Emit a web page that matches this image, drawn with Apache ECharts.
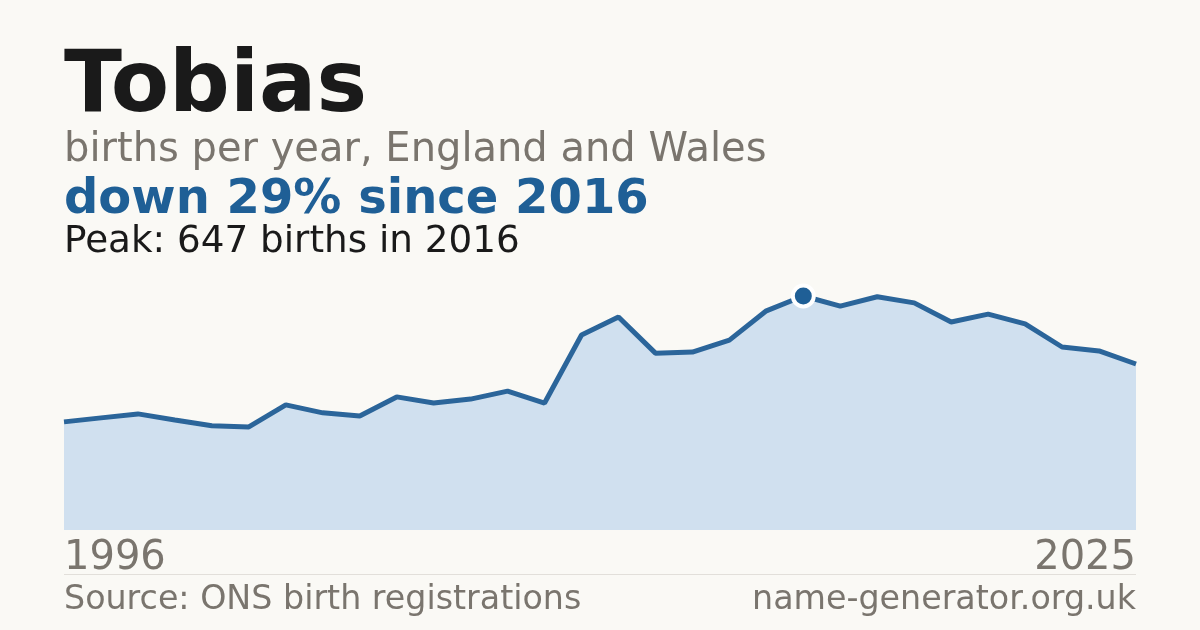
<!DOCTYPE html>
<html>
<head>
<meta charset="utf-8">
<script src="https://cdn.jsdelivr.net/npm/echarts@6/dist/echarts.min.js"></script>
<style>
html,body{margin:0;padding:0;background:#faf9f5;}
#chart{width:1200px;height:630px;}
</style>
</head>
<body>
<div id="chart"></div>
<script>
var years = [];
for (var y = 1996; y <= 2025; y++) years.push(String(y));
var births = [299, 310, 321, 304, 288, 285, 346, 324, 315, 368,
              351, 362, 384, 351, 539, 589, 489, 492, 525, 606,
              647, 619, 645, 628, 575, 597, 570, 506, 495, 459];
var titleText = 'Tobias';
var subtitleText = 'births per year, England and Wales';
var headlineText = 'down 29% since 2016';
var peakText = 'Peak: 647 births in 2016';
var sourceText = 'Source: ONS birth registrations';
var siteText = 'name-generator.org.uk';

var peakIdx = births.indexOf(Math.max.apply(null, births));
var FONT = '"DejaVu Sans", sans-serif';

var chart = echarts.init(document.getElementById('chart'), null, {renderer: 'canvas'});
chart.setOption({
  backgroundColor: '#faf9f5',
  animation: false,
  grid: {left: 64, right: 64, top: 296, bottom: 100},
  xAxis: {
    type: 'category',
    data: years,
    boundaryGap: false,
    axisLine: {show: false},
    axisTick: {show: false},
    splitLine: {show: false},
    axisLabel: {
      interval: function (i) { return i === 0 || i === years.length - 1; },
      color: '#7a756e',
      fontFamily: FONT,
      fontSize: 40,
      margin: 9,
      alignMinLabel: 'left',
      alignMaxLabel: 'right'
    }
  },
  yAxis: {
    type: 'value',
    min: 0,
    max: function (v) { return v.max; },
    show: false,
    splitLine: {show: false}
  },
  series: [
    {
      type: 'line',
      data: births,
      showSymbol: false,
      symbol: 'none',
      lineStyle: {color: '#2b659a', width: 5},
      areaStyle: {color: '#d0e0ef', opacity: 1},
      z: 2
    },
    {
      type: 'scatter',
      data: [[peakIdx, births[peakIdx]]],
      symbol: 'circle',
      symbolSize: 21,
      itemStyle: {color: '#1f5f96', borderColor: '#ffffff', borderWidth: 4, opacity: 1},
      z: 5
    }
  ],
  graphic: [
    {type: 'text', left: 64, top: 46, style: {text: titleText, font: 'bold 85px ' + FONT, fill: '#1a1a1a'}},
    {type: 'text', left: 64, top: 131, style: {text: subtitleText, font: '40px ' + FONT, fill: '#7a756e'}},
    {type: 'text', left: 64, top: 177, style: {text: headlineText, font: 'bold 48px ' + FONT, fill: '#1f5f96'}},
    {type: 'text', left: 64, top: 224, style: {text: peakText, font: '37.3px ' + FONT, fill: '#1a1a1a'}},
    {type: 'rect', shape: {x: 64, y: 574, width: 1072, height: 1}, style: {fill: '#e2dfda'}},
    {type: 'text', left: 64, top: 584, style: {text: sourceText, font: '33.3px ' + FONT, fill: '#7a756e'}},
    {type: 'text', right: 64, top: 584, style: {text: siteText, font: '33.3px ' + FONT, fill: '#7a756e'}}
  ]
});
</script>
</body>
</html>
